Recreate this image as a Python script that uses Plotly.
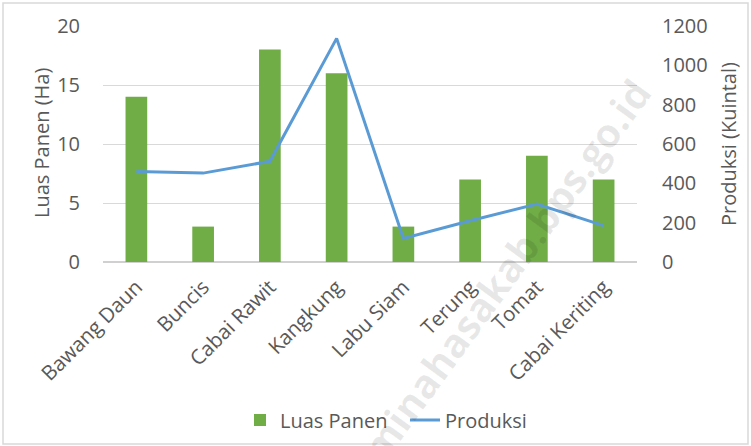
import plotly.graph_objects as go

categories = ["Bawang Daun", "Buncis", "Cabai Rawit", "Kangkung", "Labu Siam", "Terung", "Tomat", "Cabai Keriting"]
luas_panen = [14, 3, 18, 16, 3, 7, 9, 7]
produksi = [460, 452, 512, 1137, 120, 210, 295, 185]
left_ticks = [0, 5, 10, 15, 20]
right_ticks = [0, 200, 400, 600, 800, 1000, 1200]

FONT = "Open Sans"
GRAY = "#595959"

# plot area in pixels
L, R, T, B = 103, 637, 26, 262
W, H = R - L, B - T


def px(x):
    return (x - L) / W


def py(y):
    return (B - y) / H


fig = go.Figure()
fig.add_trace(go.Bar(x=categories, y=luas_panen, name="Luas Panen",
                     marker=dict(color="#70ad47", line=dict(width=0)), yaxis="y"))
fig.add_trace(go.Scatter(x=categories, y=produksi, name="Produksi", mode="lines",
                         line=dict(color="#5b9bd5", width=3), yaxis="y2"))

fig.update_layout(
    width=751, height=446,
    margin=dict(l=L, r=751 - R, t=T, b=446 - B, autoexpand=False),
    paper_bgcolor="white", plot_bgcolor="white",
    font=dict(family=FONT, color=GRAY, size=20),
    bargap=0.675,
    showlegend=True,
    legend=dict(orientation="h", x=px(405), xanchor="center", y=py(420), yanchor="middle",
                font=dict(size=20, color=GRAY), itemwidth=30, traceorder="normal",
                entrywidth=120, entrywidthmode="pixels"),
    xaxis=dict(tickangle=-45, tickfont=dict(size=20.5, color=GRAY), showgrid=False,
               showline=False, ticks="", zeroline=False, automargin=False,
               ticklabelstandoff=8),
    yaxis=dict(range=[0, 20], tickvals=left_ticks, tickfont=dict(size=20, color=GRAY),
               showgrid=True, gridcolor="#d9d9d9", gridwidth=1.3, zeroline=True,
               zerolinecolor="#d0d0d0", zerolinewidth=2, automargin=False,
               ticklabelstandoff=22, showline=False),
    yaxis2=dict(range=[0, 1200], tickvals=right_ticks, overlaying="y", side="right",
                tickfont=dict(size=20, color=GRAY), showgrid=False, zeroline=False,
                automargin=False, ticklabelstandoff=24, showline=False),
    shapes=[dict(type="rect", xref="paper", yref="paper", x0=px(3), x1=px(748),
                 y0=py(444), y1=py(3), line=dict(color="#d9d9d9", width=1.5), layer="below")],
    annotations=[
        dict(text="<b>minahasakab.bps.go.id</b>", xref="paper", yref="paper",
             x=px(505), y=py(270), xanchor="center", yanchor="middle", showarrow=False,
             textangle=-54, font=dict(size=40, color="rgba(0,0,0,0.09)", family=FONT)),
        dict(text="Luas Panen (Ha)", xref="paper", yref="paper", x=px(41), y=py(143),
             xanchor="center", yanchor="middle", showarrow=False, textangle=-90,
             font=dict(size=20, color=GRAY, family=FONT)),
        dict(text="Produksi (Kuintal)", xref="paper", yref="paper", x=px(728), y=py(144),
             xanchor="center", yanchor="middle", showarrow=False, textangle=-90,
             font=dict(size=20, color=GRAY, family=FONT)),
    ],
)

fig.write_html("out.html", config={"displayModeBar": False},
               post_script="document.body.style.margin='0';document.body.style.overflow='hidden';")
